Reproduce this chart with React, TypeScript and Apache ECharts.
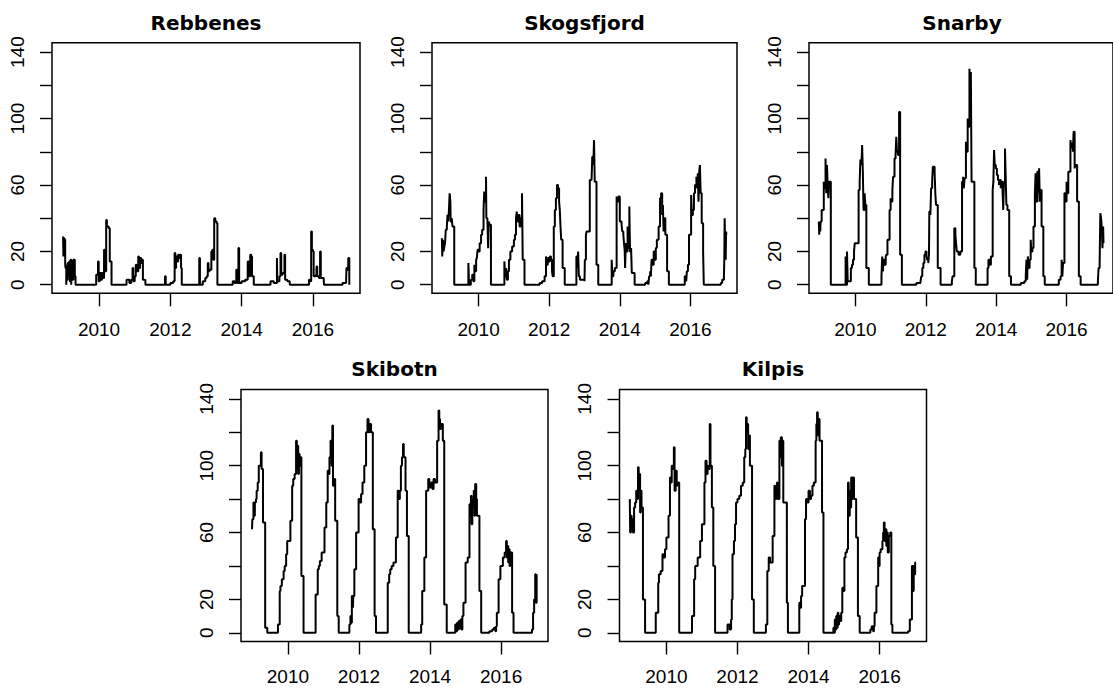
import React, { useEffect, useRef } from "react";
import * as echarts from "echarts";

// ---- data (decimal year, value) ----
const stationNames = ["Rebbenes", "Skogsfjord", "Snarby", "Skibotn", "Kilpis"];
const xTicks = [2010, 2012, 2014, 2016];
const yTicks = [0, 20, 40, 60, 80, 100, 120, 140];
const yLabels = [0, 20, 60, 100, 140];

const rebbenes: [number, number][] = [
  [2008.99, 29], [2009.0, 17], [2009.01, 28], [2009.03, 27], [2009.05, 12], [2009.06, 10], [2009.08, 0], [2009.09, 12], [2009.1, 3], [2009.12, 13], [2009.14, 5], [2009.16, 14], [2009.18, 2], [2009.2, 15], [2009.22, 0], [2009.23, 14], [2009.26, 3], [2009.28, 15], [2009.32, 5], [2009.34, 0],
  [2009.92, 6], [2009.97, 14], [2009.99, 2], [2010.02, 7], [2010.05, 3], [2010.08, 7], [2010.12, 4], [2010.14, 21], [2010.16, 8], [2010.2, 39], [2010.22, 35], [2010.27, 34], [2010.3, 14], [2010.35, 0],
  [2010.77, 3], [2010.85, 1], [2010.9, 3], [2010.94, 10], [2010.96, 2], [2011.0, 5], [2011.03, 12], [2011.05, 8], [2011.1, 17], [2011.12, 10], [2011.15, 16], [2011.18, 13], [2011.21, 15], [2011.23, 3], [2011.3, 0],
  [2011.85, 5], [2011.87, 0],
  [2012.0, 1], [2012.08, 2], [2012.12, 19], [2012.14, 10], [2012.16, 17], [2012.19, 14], [2012.22, 18], [2012.25, 16], [2012.28, 18], [2012.3, 10], [2012.32, 0],
  [2012.81, 16], [2012.83, 0],
  [2012.91, 2], [2012.98, 4], [2013.02, 5], [2013.05, 13], [2013.07, 8], [2013.1, 9], [2013.15, 20], [2013.18, 21], [2013.2, 15], [2013.23, 40], [2013.26, 38], [2013.3, 37], [2013.32, 0],
  [2013.75, 2], [2013.8, 1], [2013.85, 9], [2013.88, 1], [2013.91, 22], [2013.93, 1], [2014.0, 2], [2014.1, 3], [2014.17, 14], [2014.2, 5], [2014.24, 18], [2014.27, 17], [2014.29, 5], [2014.34, 0],
  [2014.81, 2], [2014.9, 1], [2014.99, 16], [2015.0, 2], [2015.06, 5], [2015.09, 19], [2015.11, 6], [2015.15, 7], [2015.2, 18], [2015.22, 3], [2015.28, 2], [2015.35, 0],
  [2015.89, 3], [2015.93, 2], [2015.95, 32], [2015.97, 21], [2016.0, 20], [2016.02, 5], [2016.08, 6], [2016.1, 11], [2016.12, 5], [2016.17, 4], [2016.2, 20], [2016.22, 4], [2016.3, 4], [2016.31, 0],
  [2016.83, 1], [2016.93, 2], [2016.94, 10], [2016.97, 9], [2016.99, 16], [2017.02, 0],
];

const skogsfjord: [number, number][] = [
  [2008.96, 28], [2008.97, 17], [2008.99, 27], [2009.01, 20], [2009.03, 23], [2009.05, 25], [2009.07, 33], [2009.1, 35], [2009.12, 42], [2009.14, 38], [2009.16, 45], [2009.18, 55], [2009.2, 50], [2009.21, 38], [2009.24, 40], [2009.26, 35], [2009.31, 0],
  [2009.71, 13], [2009.73, 0], [2009.78, 3], [2009.82, 6], [2009.85, 2], [2009.88, 12], [2009.9, 8], [2009.93, 15], [2009.95, 16], [2009.97, 21], [2010.0, 20], [2010.03, 25], [2010.07, 30], [2010.1, 33], [2010.14, 45], [2010.16, 56], [2010.18, 50], [2010.21, 65], [2010.22, 40], [2010.25, 38], [2010.27, 22], [2010.29, 38], [2010.31, 36], [2010.35, 0],
  [2010.73, 14], [2010.75, 5], [2010.78, 10], [2010.8, 3], [2010.83, 8], [2010.86, 15], [2010.9, 20], [2010.95, 23], [2011.0, 27], [2011.03, 30], [2011.06, 40], [2011.08, 44], [2011.1, 38], [2011.13, 42], [2011.16, 35], [2011.19, 40], [2011.23, 55], [2011.25, 15], [2011.3, 0],
  [2011.73, 1], [2011.8, 2], [2011.87, 5], [2011.91, 17], [2011.93, 12], [2011.96, 16], [2011.99, 14], [2012.02, 17], [2012.05, 15], [2012.08, 8], [2012.1, 5], [2012.13, 35], [2012.16, 45], [2012.19, 52], [2012.22, 60], [2012.25, 58], [2012.28, 50], [2012.3, 45], [2012.32, 35], [2012.34, 27], [2012.38, 10], [2012.44, 0],
  [2012.77, 17], [2012.8, 10], [2012.82, 20], [2012.84, 5], [2012.87, 3], [2012.95, 3], [2013.0, 2], [2013.01, 15], [2013.04, 30], [2013.06, 32], [2013.15, 63], [2013.2, 63], [2013.22, 77], [2013.25, 72], [2013.27, 87], [2013.29, 62], [2013.34, 12], [2013.39, 0],
  [2013.77, 15], [2013.79, 5], [2013.82, 8], [2013.86, 10], [2013.91, 53], [2013.93, 50], [2013.96, 53], [2014.0, 38], [2014.05, 36], [2014.07, 32], [2014.1, 30], [2014.12, 25], [2014.14, 20], [2014.15, 10], [2014.17, 25], [2014.19, 20], [2014.22, 35], [2014.24, 22], [2014.27, 47], [2014.29, 20], [2014.32, 22], [2014.34, 7], [2014.42, 0],
  [2014.72, 1], [2014.78, 2], [2014.81, 0], [2014.83, 5], [2014.86, 8], [2014.88, 5], [2014.9, 15], [2014.93, 12], [2014.96, 20], [2014.99, 15], [2015.02, 22], [2015.05, 27], [2015.1, 35], [2015.14, 52], [2015.17, 55], [2015.2, 42], [2015.22, 48], [2015.24, 32], [2015.26, 40], [2015.29, 30], [2015.34, 8], [2015.39, 0],
  [2015.84, 5], [2015.88, 2], [2015.9, 8], [2015.93, 12], [2015.96, 30], [2016.02, 54], [2016.04, 42], [2016.07, 45], [2016.1, 55], [2016.13, 60], [2016.17, 65], [2016.19, 58], [2016.21, 67], [2016.23, 50], [2016.25, 68], [2016.27, 72], [2016.29, 55], [2016.32, 37], [2016.36, 20], [2016.38, 0],
  [2016.86, 1], [2016.9, 3], [2016.95, 5], [2016.96, 15], [2016.97, 40], [2016.98, 30], [2017.0, 15], [2017.01, 32], [2017.02, 30],
];

const snarby: [number, number][] = [
  [2008.96, 38], [2008.97, 30], [2008.98, 38], [2009.0, 32], [2009.01, 38], [2009.04, 45], [2009.1, 62], [2009.12, 58], [2009.15, 76], [2009.17, 55], [2009.19, 72], [2009.21, 60], [2009.23, 52], [2009.25, 62], [2009.3, 0],
  [2009.72, 17], [2009.73, 0], [2009.76, 20], [2009.78, 2], [2009.87, 10], [2009.9, 12], [2009.93, 15], [2009.96, 20], [2009.98, 25], [2010.09, 57], [2010.12, 62], [2010.14, 75], [2010.17, 72], [2010.19, 84], [2010.21, 68], [2010.23, 45], [2010.26, 55], [2010.28, 48], [2010.31, 10], [2010.38, 0],
  [2010.74, 5], [2010.76, 17], [2010.78, 8], [2010.8, 15], [2010.83, 12], [2010.86, 17], [2010.88, 18], [2010.91, 27], [2010.97, 45], [2011.0, 52], [2011.02, 50], [2011.05, 57], [2011.07, 65], [2011.11, 76], [2011.14, 78], [2011.16, 89], [2011.18, 80], [2011.21, 78], [2011.24, 104], [2011.27, 18], [2011.32, 0],
  [2011.73, 1], [2011.85, 2], [2011.87, 5], [2011.9, 10], [2011.93, 13], [2011.96, 18], [2011.99, 20], [2012.02, 17], [2012.04, 15], [2012.07, 13], [2012.09, 18], [2012.1, 44], [2012.13, 42], [2012.15, 58], [2012.18, 62], [2012.2, 71], [2012.25, 68], [2012.27, 55], [2012.29, 48], [2012.34, 10], [2012.42, 0],
  [2012.74, 2], [2012.76, 5], [2012.81, 34], [2012.84, 30], [2012.86, 25], [2012.88, 20], [2012.93, 18], [2012.98, 20], [2013.03, 62], [2013.06, 65], [2013.08, 58], [2013.1, 64], [2013.14, 86], [2013.16, 80], [2013.19, 100], [2013.21, 95], [2013.24, 130], [2013.26, 122], [2013.28, 128], [2013.3, 62], [2013.38, 10], [2013.42, 0],
  [2013.755, 10], [2013.78, 15], [2013.82, 12], [2013.85, 17], [2013.9, 57], [2013.92, 62], [2013.94, 81], [2013.96, 72], [2013.99, 70], [2014.02, 66], [2014.05, 63], [2014.08, 60], [2014.1, 63], [2014.13, 58], [2014.15, 62], [2014.18, 57], [2014.2, 45], [2014.22, 62], [2014.25, 82], [2014.27, 65], [2014.29, 48], [2014.32, 45], [2014.37, 5], [2014.42, 0],
  [2014.7, 1], [2014.8, 2], [2014.84, 5], [2014.86, 15], [2014.88, 3], [2014.9, 17], [2014.92, 10], [2014.95, 15], [2014.98, 27], [2015.0, 20], [2015.03, 22], [2015.06, 35], [2015.1, 55], [2015.12, 67], [2015.14, 50], [2015.17, 68], [2015.2, 55], [2015.22, 70], [2015.24, 50], [2015.26, 57], [2015.29, 35], [2015.34, 5], [2015.38, 0],
  [2015.78, 3], [2015.83, 5], [2015.86, 15], [2015.88, 5], [2015.9, 13], [2015.94, 55], [2015.97, 50], [2016.0, 62], [2016.02, 55], [2016.05, 68], [2016.11, 87], [2016.13, 82], [2016.15, 85], [2016.18, 80], [2016.2, 92], [2016.23, 70], [2016.25, 72], [2016.3, 50], [2016.35, 5], [2016.4, 0],
  [2016.89, 2], [2016.91, 10], [2016.94, 13], [2016.96, 43], [2016.98, 40], [2017.0, 35], [2017.02, 22], [2017.04, 35], [2017.05, 25],
];

const skibotn: [number, number][] = [
  [2008.99, 62], [2009.0, 68], [2009.03, 78], [2009.05, 70], [2009.07, 78], [2009.1, 80], [2009.12, 85], [2009.15, 90], [2009.18, 100], [2009.24, 108], [2009.26, 98], [2009.3, 66], [2009.36, 3], [2009.42, 0],
  [2009.72, 5], [2009.77, 25], [2009.79, 28], [2009.83, 32], [2009.88, 37], [2009.91, 40], [2009.95, 47], [2009.98, 55], [2010.07, 67], [2010.12, 88], [2010.15, 92], [2010.19, 95], [2010.23, 115], [2010.25, 98], [2010.27, 112], [2010.29, 95], [2010.31, 107], [2010.33, 100], [2010.35, 105], [2010.38, 34], [2010.44, 0],
  [2010.78, 23], [2010.84, 38], [2010.87, 40], [2010.9, 43], [2010.95, 48], [2011.03, 63], [2011.08, 78], [2011.12, 97], [2011.14, 95], [2011.17, 105], [2011.2, 115], [2011.23, 100], [2011.25, 124], [2011.27, 88], [2011.29, 92], [2011.33, 67], [2011.39, 10], [2011.43, 0],
  [2011.73, 5], [2011.76, 10], [2011.78, 6], [2011.8, 22], [2011.83, 15], [2011.84, 22], [2011.87, 38], [2011.92, 60], [2011.99, 80], [2012.03, 78], [2012.06, 83], [2012.1, 90], [2012.15, 100], [2012.2, 120], [2012.24, 128], [2012.27, 120], [2012.3, 125], [2012.34, 120], [2012.39, 62], [2012.44, 10], [2012.48, 0],
  [2012.81, 30], [2012.85, 35], [2012.88, 38], [2012.92, 40], [2012.97, 42], [2013.04, 57], [2013.09, 85], [2013.12, 80], [2013.15, 85], [2013.18, 100], [2013.21, 105], [2013.24, 113], [2013.26, 105], [2013.31, 85], [2013.35, 58], [2013.4, 0],
  [2013.75, 5], [2013.78, 25], [2013.84, 45], [2013.89, 85], [2013.95, 92], [2013.98, 87], [2014.03, 90], [2014.07, 86], [2014.1, 92], [2014.14, 90], [2014.2, 115], [2014.24, 133], [2014.26, 128], [2014.28, 122], [2014.31, 125], [2014.36, 115], [2014.4, 17], [2014.47, 0],
  [2014.71, 5], [2014.73, 1], [2014.76, 6], [2014.78, 2], [2014.81, 7], [2014.83, 3], [2014.86, 8], [2014.88, 2], [2014.91, 10], [2014.94, 18], [2015.0, 42], [2015.06, 45], [2015.11, 77], [2015.13, 70], [2015.15, 82], [2015.17, 65], [2015.19, 80], [2015.21, 75], [2015.23, 85], [2015.25, 70], [2015.27, 89], [2015.3, 80], [2015.32, 70], [2015.39, 25], [2015.44, 0],
  [2015.67, 1], [2015.75, 2], [2015.8, 3], [2015.84, 1], [2015.86, 4], [2015.88, 12], [2015.93, 32], [2015.98, 40], [2016.05, 45], [2016.1, 48], [2016.14, 55], [2016.16, 45], [2016.18, 52], [2016.2, 42], [2016.22, 50], [2016.24, 40], [2016.26, 48], [2016.31, 12], [2016.35, 0],
  [2016.87, 2], [2016.9, 12], [2016.93, 20], [2016.96, 35], [2016.98, 18], [2017.0, 35],
];

const kilpis: [number, number][] = [
  [2008.97, 80], [2008.98, 60], [2009.0, 70], [2009.02, 62], [2009.04, 68], [2009.06, 60], [2009.09, 75], [2009.12, 78], [2009.15, 85], [2009.18, 80], [2009.2, 99], [2009.22, 85], [2009.24, 95], [2009.26, 72], [2009.28, 85], [2009.3, 75], [2009.34, 20], [2009.4, 0],
  [2009.7, 12], [2009.77, 30], [2009.79, 35], [2009.84, 37], [2009.89, 47], [2009.92, 45], [2009.96, 50], [2010.0, 57], [2010.06, 70], [2010.1, 93], [2010.13, 90], [2010.15, 100], [2010.18, 98], [2010.21, 111], [2010.23, 85], [2010.26, 97], [2010.29, 88], [2010.31, 90], [2010.36, 0],
  [2010.72, 10], [2010.78, 32], [2010.81, 40], [2010.88, 45], [2010.95, 55], [2011.0, 65], [2011.07, 90], [2011.1, 103], [2011.13, 95], [2011.16, 100], [2011.18, 98], [2011.22, 125], [2011.24, 100], [2011.28, 75], [2011.32, 40], [2011.37, 0],
  [2011.72, 5], [2011.78, 2], [2011.82, 8], [2011.84, 20], [2011.86, 47], [2011.9, 55], [2011.93, 65], [2011.96, 78], [2012.0, 80], [2012.05, 82], [2012.1, 88], [2012.15, 90], [2012.19, 105], [2012.22, 110], [2012.24, 129], [2012.26, 120], [2012.28, 125], [2012.3, 110], [2012.33, 118], [2012.35, 100], [2012.41, 20], [2012.46, 0],
  [2012.8, 5], [2012.84, 37], [2012.88, 45], [2012.92, 42], [2012.99, 58], [2013.04, 88], [2013.06, 80], [2013.09, 85], [2013.11, 90], [2013.13, 80], [2013.18, 115], [2013.2, 105], [2013.22, 117], [2013.25, 100], [2013.27, 115], [2013.29, 78], [2013.39, 18], [2013.42, 0],
  [2013.74, 18], [2013.76, 15], [2013.79, 22], [2013.82, 28], [2013.9, 68], [2013.93, 80], [2013.96, 78], [2014.0, 85], [2014.04, 80], [2014.07, 82], [2014.11, 88], [2014.15, 90], [2014.2, 115], [2014.22, 125], [2014.24, 132], [2014.26, 118], [2014.28, 128], [2014.31, 115], [2014.38, 72], [2014.42, 0],
  [2014.7, 3], [2014.72, 0], [2014.74, 8], [2014.76, 2], [2014.78, 10], [2014.8, 3], [2014.82, 12], [2014.84, 5], [2014.86, 10], [2014.89, 7], [2014.92, 12], [2014.95, 27], [2014.98, 25], [2015.01, 45], [2015.04, 48], [2015.08, 50], [2015.11, 90], [2015.13, 70], [2015.16, 85], [2015.18, 75], [2015.2, 93], [2015.22, 80], [2015.24, 93], [2015.28, 80], [2015.34, 57], [2015.39, 10], [2015.44, 0],
  [2015.74, 2], [2015.78, 4], [2015.82, 1], [2015.84, 4], [2015.86, 12], [2015.91, 28], [2015.96, 45], [2015.98, 40], [2016.0, 48], [2016.03, 50], [2016.08, 55], [2016.1, 60], [2016.12, 66], [2016.14, 55], [2016.17, 62], [2016.19, 52], [2016.21, 60], [2016.23, 48], [2016.26, 58], [2016.3, 60], [2016.33, 5], [2016.36, 0],
  [2016.8, 1], [2016.85, 8], [2016.91, 40], [2016.93, 25], [2016.96, 40], [2016.98, 35], [2017.0, 42], [2017.02, 42],
];

const stationData = [rebbenes, skogsfjord, snarby, skibotn, kilpis];

// ---- layout (pixels) ----
const panels = [
  { left: 52, width: 308, top: 42.8, height: 250.5, xMargin: 27, titleY: 22.5 },
  { left: 432, width: 305, top: 42.8, height: 250.5, xMargin: 27, titleY: 22.5 },
  { left: 809, width: 306, top: 42.8, height: 250.5, xMargin: 27, titleY: 22.5 },
  { left: 241, width: 307, top: 389.5, height: 252, xMargin: 25.5, titleY: 369.2 },
  { left: 619.5, width: 307, top: 389.5, height: 252, xMargin: 25.5, titleY: 369.2 },
];

const TICK_FONT = "'Liberation Sans', Arial, sans-serif";
const TITLE_FONT = "'DejaVu Sans', sans-serif";

export default function App() {
  const ref = useRef<HTMLDivElement>(null);

  useEffect(() => {
    document.body.style.margin = "0";
    if (!ref.current) return;
    const chart = echarts.init(ref.current, undefined, { renderer: "svg" });

    const option: any = {
      animation: false,
      backgroundColor: "#ffffff",
      title: panels.map((p, i) => ({
        text: stationNames[i],
        left: p.left + p.width / 2,
        top: p.titleY,
        textAlign: "center",
        textVerticalAlign: "middle",
        padding: 0,
        textStyle: {
          fontFamily: TITLE_FONT,
          fontWeight: "bold",
          fontSize: 20,
          lineHeight: 20,
          color: "#000",
        },
      })),
      grid: panels.map((p) => ({
        left: p.left,
        top: p.top,
        width: p.width,
        height: p.height,
        show: true,
        borderColor: "#000",
        borderWidth: 1.5,
        backgroundColor: "transparent",
        containLabel: false,
      })),
      xAxis: panels.map((p, i) => ({
        type: "value",
        gridIndex: i,
        min: 2008.68,
        max: 2017.32,
        axisLine: { show: false, onZero: false },
        splitLine: { show: false },
        axisTick: {
          show: true,
          length: 13,
          customValues: xTicks,
          lineStyle: { color: "#000", width: 1.4 },
        },
        axisLabel: {
          show: true,
          customValues: xTicks,
          margin: p.xMargin,
          fontFamily: TICK_FONT,
          fontSize: 19,
          lineHeight: 19,
          color: "#000",
          formatter: (v: number) => String(v),
        },
      })),
      yAxis: panels.map((p, i) => ({
        type: "value",
        gridIndex: i,
        min: -5.2,
        max: 145.6,
        axisLine: { show: false, onZero: false },
        splitLine: { show: false },
        axisTick: {
          show: true,
          length: 12,
          customValues: yTicks,
          lineStyle: { color: "#000", width: 1.4 },
        },
        axisLabel: {
          show: true,
          customValues: yLabels,
          rotate: 90,
          margin: 25.5,
          fontFamily: TICK_FONT,
          fontSize: 19,
          lineHeight: 19,
          color: "#000",
          formatter: (v: number) => String(v),
        },
      })),
      series: stationData.map((d, i) => ({
        type: "line",
        name: stationNames[i],
        xAxisIndex: i,
        yAxisIndex: i,
        data: d,
        step: "end",
        showSymbol: false,
        symbol: "none",
        lineStyle: { color: "#000", width: 2 },
        clip: true,
      })),
    };

    chart.setOption(option);
    return () => chart.dispose();
  }, []);

  return <div ref={ref} style={{ width: 1113, height: 688 }} />;
}
